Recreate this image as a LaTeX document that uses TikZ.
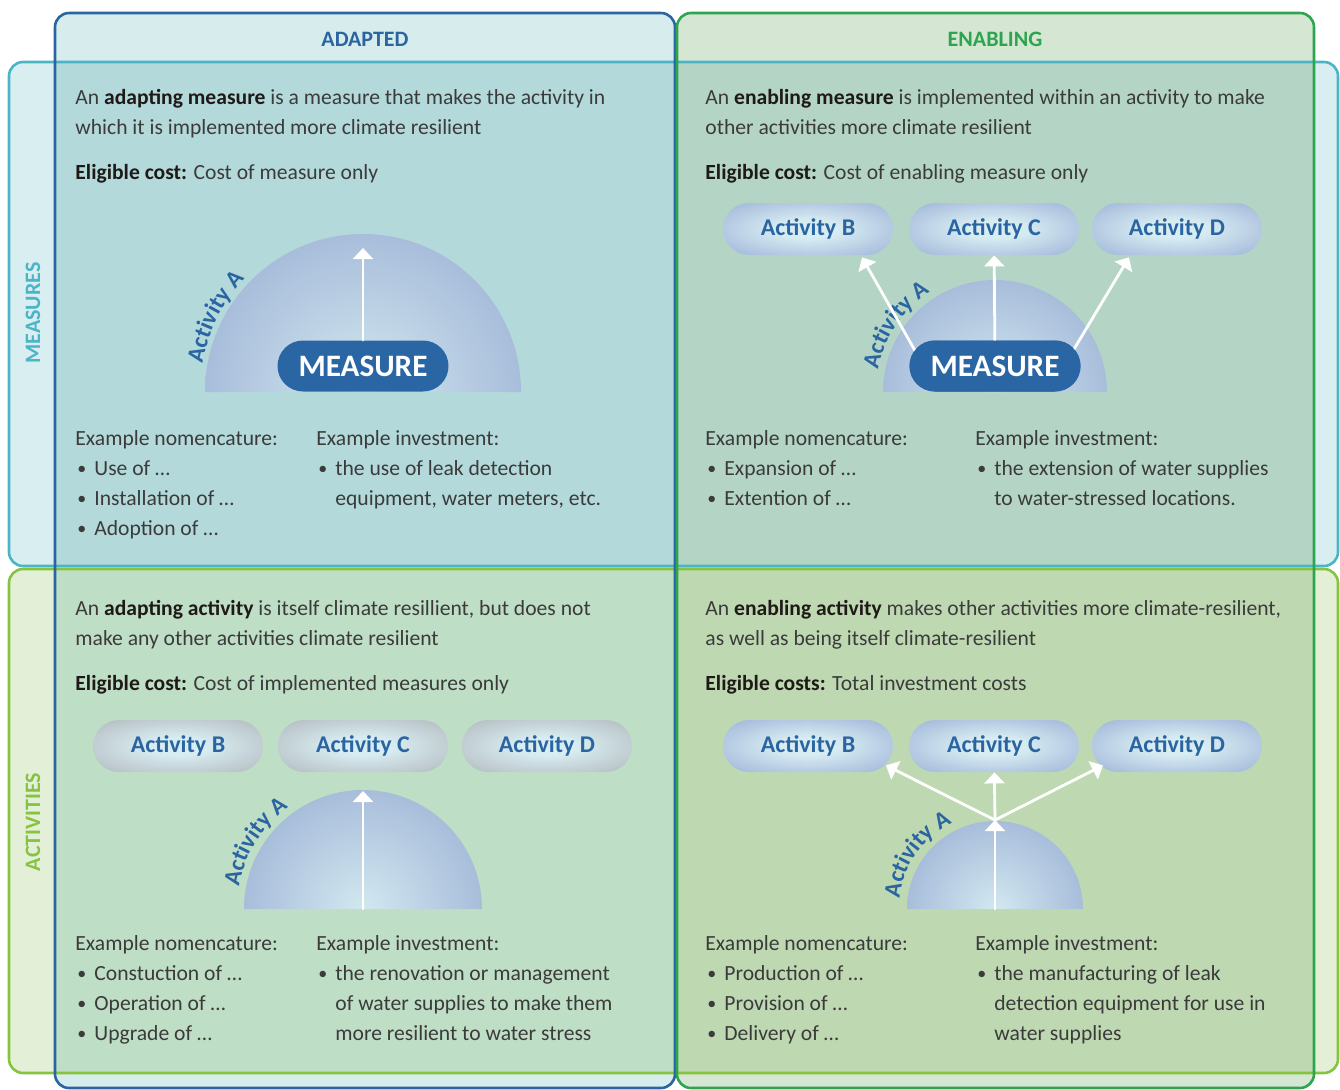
\documentclass[tikz,border=0pt]{standalone}
\usepackage{fontspec}
\setmainfont{Carlito}
\usetikzlibrary{shapes.misc,arrows.meta,decorations.text}

\definecolor{adaptblue}{HTML}{2A65A2}
\definecolor{enablegreen}{HTML}{2DA44E}
\definecolor{measteal}{HTML}{4CB4C7}
\definecolor{actgreen}{HTML}{86C440}
\definecolor{measblue}{HTML}{2966A3}
\definecolor{textgray}{HTML}{3B3B3B}
\definecolor{termblack}{HTML}{1F1A17}
\definecolor{adaptfill}{HTML}{D7ECEC}
\definecolor{enablefill}{HTML}{D5E6D3}
\definecolor{measfill}{HTML}{D9EEF1}
\definecolor{actfill}{HTML}{E3F0D7}
\definecolor{adaptmeas}{HTML}{B3D9DB}
\definecolor{enablemeas}{HTML}{B4D5C6}
\definecolor{adaptact}{HTML}{BFDEC6}
\definecolor{enableact}{HTML}{BED9B2}
\definecolor{pilllight}{HTML}{D8EDF2}
\definecolor{pillrim}{HTML}{8BA0CF}
\definecolor{grayrim}{HTML}{A6A9AD}
\definecolor{domelight}{HTML}{D2E8EF}
\definecolor{domerim}{HTML}{8CA0CD}

\pgfdeclareradialshading{pillblue}{\pgfpoint{0bp}{0bp}}{color(0bp)=(pilllight); color(8bp)=(pilllight); color(45bp)=(pillrim); color(50bp)=(pillrim)}
\pgfdeclareradialshading{pillgray}{\pgfpoint{0bp}{0bp}}{color(0bp)=(pilllight); color(8bp)=(pilllight); color(45bp)=(grayrim); color(50bp)=(grayrim)}
\pgfdeclareradialshading{domeshade}{\pgfpoint{0bp}{0bp}}{color(0bp)=(domelight); color(42bp)=(domerim); color(50bp)=(domerim)}

\newcommand\bodyfont{\fontsize{10.8}{15}\selectfont}
\newcommand\actfont{\bfseries\fontsize{12}{14}\selectfont}
\newcommand\term[1]{{\bfseries\color{termblack}#1}}
\newcommand\bul[1]{\makebox[9.5pt][l]{\hspace{1pt}\raisebox{0.3pt}{\small\textbullet}}#1}
\newcommand\ind{\hspace*{9.5pt}}

\tikzset{
  % multi-line text: placed at the baseline of its last line
  txt/.style={anchor=base west, align=left, inner sep=0pt, font=\bodyfont, text=textgray},
  head/.style={font=\bfseries\fontsize{11}{13}\selectfont},
  box/.style={rounded corners=7pt, line width=1.3pt},
  pill/.style={rounded rectangle, minimum width=85pt, minimum height=26pt, inner sep=0pt,
    font=\bfseries\fontsize{12}{14}\selectfont, text=adaptblue, shade, shading=pillblue},
  graypill/.style={pill, shading=pillgray},
  measure/.style={rounded rectangle, fill=measblue, text=white, minimum width=85.5pt,
    minimum height=25.5pt, inner sep=0pt, font=\bfseries\fontsize{15.6}{17}\selectfont},
  arr/.style={->, white, line width=1.4pt},
  acta/.style={decorate, decoration={text along path, text align=center, text color=adaptblue,
    text={|\actfont|Activity A}}}
}

\begin{document}
\begin{tikzpicture}[x=0.5pt,y=-0.5pt,line cap=round,line join=round,>={Triangle[width=10pt,length=5.5pt]}]
 \useasboundingbox (0,0) rectangle (1340,1089);
 % columns, rows and their overlaps
 \fill[adaptfill,rounded corners=7pt] (55,13) rectangle (675,1088);
 \fill[enablefill,rounded corners=7pt] (677,13) rectangle (1314,1088);
 \fill[measfill,rounded corners=7pt] (9,62) rectangle (1338,566);
 \fill[actfill,rounded corners=7pt] (9,569) rectangle (1338,1073);
 \fill[adaptmeas] (55,62) rectangle (675,566);
 \fill[enablemeas] (677,62) rectangle (1314,566);
 \fill[adaptact] (55,569) rectangle (675,1073);
 \fill[enableact] (677,569) rectangle (1314,1073);
 \draw[box,measteal] (9,62) rectangle (1338,566);
 \draw[box,actgreen] (9,569) rectangle (1338,1073);
 \draw[box,adaptblue] (55,13) rectangle (675,1088);
 \draw[box,enablegreen] (677,13) rectangle (1314,1088);

 \node[head,text=adaptblue] (hadapt) at (365,39) {ADAPTED};
 \node[head,text=enablegreen] (henable) at (995,39) {ENABLING};
 \node[head,text=measteal,rotate=90] (hmeas) at (33,313) {MEASURES};
 \node[head,text=actgreen,rotate=90] (hact) at (33,822) {ACTIVITIES};

 % adapting measure
 \node[txt] (tldef) at (75,134) {An \term{adapting measure} is a measure that makes the activity in\\which it is implemented more climate resilient};
 \node[txt] (tlcost) at (75,179) {\term{Eligible cost:} Cost of measure only};
 \begin{scope}
  \clip (205,392) arc[start angle=180,end angle=360,radius=158] -- cycle;
  \shade[shading=domeshade] (363,392) circle[radius=158];
 \end{scope}
 \path[acta] ([shift={(177:163)}]363,392) arc[start angle=177,end angle=237,radius=163];
 \node[measure] (mtl) at (363,366) {MEASURE};
 \coordinate (ttl) at (363,248);
 \draw[arr] (mtl) -- (ttl);
 \node[txt] (tlnom) at (75,535) {Example nomencature:\\\bul{Use of …}\\\bul{Installation of …}\\\bul{Adoption of …}};
 \node[txt] (tlinv) at (316,505) {Example investment:\\\bul{the use of leak detection}\\\ind equipment, water meters, etc.};

 % enabling measure
 \node[txt] (trdef) at (705,134) {An \term{enabling measure} is implemented within an activity to make\\other activities more climate resilient};
 \node[txt] (trcost) at (705,179) {\term{Eligible cost:} Cost of enabling measure only};
 \node[pill] (btr) at (808,229) {Activity B};
 \node[pill] (ctr) at (994,229) {Activity C};
 \node[pill] (dtr) at (1177,229) {Activity D};
 \begin{scope}
  \clip (883,392) arc[start angle=180,end angle=360,radius=112] -- cycle;
  \shade[shading=domeshade] (995,392) circle[radius=112];
 \end{scope}
 \path[acta] ([shift={(182:119)}]995,392) arc[start angle=182,end angle=246,radius=119];
 \node[measure] (mtr) at (995,366) {MEASURE};
 \draw[arr] ([xshift=-39pt,yshift=-7pt]mtr.north) -- ([xshift=27pt,yshift=-1pt]btr.south);
 \draw[arr] (mtr) -- (ctr);
 \draw[arr] ([xshift=38pt,yshift=-7pt]mtr.north) -- ([xshift=-24pt,yshift=-1pt]dtr.south);
 \node[measure] at (mtr) {MEASURE};
 \node[txt] (trnom) at (705,505) {Example nomencature:\\\bul{Expansion of …}\\\bul{Extention of …}};
 \node[txt] (trinv) at (975,505) {Example investment:\\\bul{the extension of water supplies}\\\ind to water-stressed locations.};

 % adapting activity
 \node[txt] (bldef) at (75,645) {An \term{adapting activity} is itself climate resillient, but does not\\make any other activities climate resilient};
 \node[txt] (blcost) at (75,690) {\term{Eligible cost:} Cost of implemented measures only};
 \node[graypill] (bbl) at (178,746) {Activity B};
 \node[graypill] (cbl) at (363,746) {Activity C};
 \node[graypill] (dbl) at (547,746) {Activity D};
 \begin{scope}
  \clip (244,909) arc[start angle=180,end angle=360,radius=119] -- cycle;
  \shade[shading=domeshade] (363,909) circle[radius=119];
 \end{scope}
 \path[acta] ([shift={(180:126)}]363,909) arc[start angle=180,end angle=244,radius=126];
 \coordinate (sbl) at (363,909);
 \coordinate (tbl) at (363,791);
 \draw[arr] (sbl) -- (tbl);
 \node[txt] (blnom) at (75,1040) {Example nomencature:\\\bul{Constuction of …}\\\bul{Operation of …}\\\bul{Upgrade of …}};
 \node[txt] (blinv) at (316,1040) {Example investment:\\\bul{the renovation or management}\\\ind of water supplies to make them\\\ind more resilient to water stress};

 % enabling activity
 \node[txt] (brdef) at (705,645) {An \term{enabling activity} makes other activities more climate-resilient,\\as well as being itself climate-resilient};
 \node[txt] (brcost) at (705,690) {\term{Eligible costs:} Total investment costs};
 \node[pill] (bbr) at (808,746) {Activity B};
 \node[pill] (cbr) at (994,746) {Activity C};
 \node[pill] (dbr) at (1177,746) {Activity D};
 \begin{scope}
  \clip (907,909) arc[start angle=180,end angle=360,radius=88] -- cycle;
  \shade[shading=domeshade] (995,909) circle[radius=88];
 \end{scope}
 \path[acta] ([shift={(180:96)}]995,909) arc[start angle=180,end angle=250,radius=96];
 \coordinate (sbr) at (995,909);
 \coordinate (jbr) at (995,820);
 \draw[arr] (sbr) -- (jbr);
 \draw[arr] (jbr) -- ([xshift=39pt,yshift=3.5pt]bbr.south);
 \draw[arr] (jbr) -- (cbr);
 \draw[arr] (jbr) -- ([xshift=-37pt,yshift=3.5pt]dbr.south);
 \node[txt] (brnom) at (705,1040) {Example nomencature:\\\bul{Production of …}\\\bul{Provision of …}\\\bul{Delivery of …}};
 \node[txt] (brinv) at (975,1040) {Example investment:\\\bul{the manufacturing of leak}\\\ind detection equipment for use in\\\ind water supplies};
\end{tikzpicture}
\end{document}
